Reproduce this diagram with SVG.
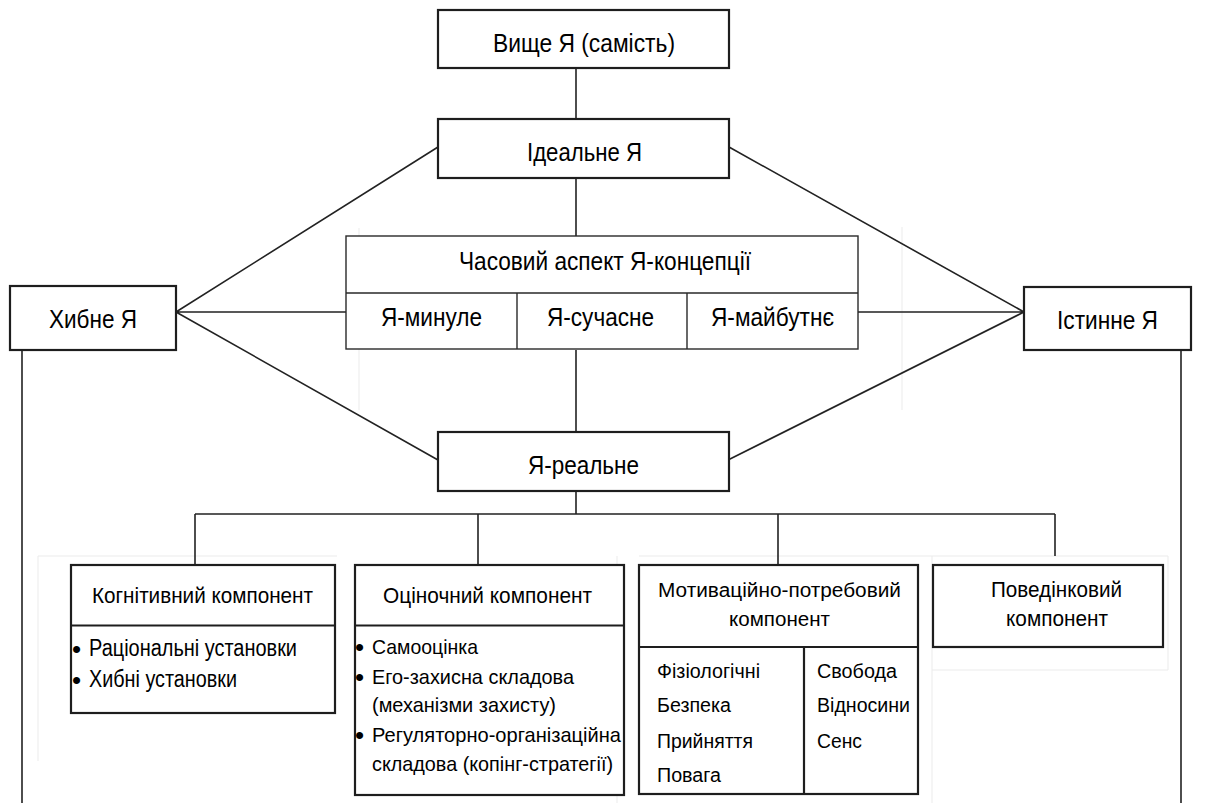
<svg xmlns="http://www.w3.org/2000/svg" width="1210" height="803" viewBox="0 0 1210 803">
<style>
.box{fill:#fff;stroke:#1e1e1e;stroke-width:2.2}
.tbl{fill:#fff;stroke:#2a2a2a;stroke-width:1.4}
.ln{stroke:#222;stroke-width:1.6;fill:none}
.faint{stroke:#ebebeb;stroke-width:1;fill:none}
text{font-family:"Liberation Sans",Arial,sans-serif;fill:#000}
.t25{font-size:26px}
.t22{font-size:23px}
.t21{font-size:22px}
.t20{font-size:21px}
.t19{font-size:20px}
.bul{font-size:26px}
</style>
<rect width="1210" height="803" fill="#fff"/>
<g id="faint">
<path class="faint" d="M359 228V410M902 227V410M38 761V556H337M617 556V803M639 556H1168V670H932M932 556V803"/>
</g>
<g id="connectors">
<path class="ln" d="M576 68V119M576 178V236M576 350V432"/>
<path class="ln" d="M176 312L438 147M176 312H346M176 312L438 460"/>
<path class="ln" d="M729 147L1024 312M858 312H1024M728 460L1024 312"/>
<path class="ln" d="M576 491V514M195 514H1055M195 514V565M478 514V565M778 514V565M1055 514V556"/>
<path class="ln" d="M22 350V803M1181 350V803"/>
</g>
<g id="vyshche">
<rect class="box" x="438" y="10" width="291" height="58"/>
<text class="t25" x="493" y="52" textLength="182" lengthAdjust="spacingAndGlyphs">Вище Я (самість)</text>
</g>
<g id="idealne">
<rect class="box" x="438" y="119" width="291" height="59"/>
<text class="t25" x="527" y="161" textLength="115" lengthAdjust="spacingAndGlyphs">Ідеальне Я</text>
</g>
<g id="chasovyi">
<rect class="tbl" x="346" y="236" width="512" height="113"/>
<path class="tbl" d="M346 293H858M517 293V349M687 293V349"/>
<text class="t25" x="459" y="270" textLength="292" lengthAdjust="spacingAndGlyphs">Часовий аспект Я-концепції</text>
<text class="t25" x="381" y="326" textLength="101" lengthAdjust="spacingAndGlyphs">Я-минуле</text>
<text class="t25" x="547" y="326" textLength="107" lengthAdjust="spacingAndGlyphs">Я-сучасне</text>
<text class="t25" x="711" y="326" textLength="123" lengthAdjust="spacingAndGlyphs">Я-майбутнє</text>
</g>
<g id="khybne">
<rect class="box" x="10" y="286" width="166" height="64"/>
<text class="t25" x="49" y="328" textLength="88" lengthAdjust="spacingAndGlyphs">Хибне Я</text>
</g>
<g id="istynne">
<rect class="box" x="1024" y="287" width="167" height="63"/>
<text class="t25" x="1057" y="329" textLength="101" lengthAdjust="spacingAndGlyphs">Істинне Я</text>
</g>
<g id="realne">
<rect class="box" x="438" y="432" width="291" height="59"/>
<text class="t25" x="528" y="474" textLength="111" lengthAdjust="spacingAndGlyphs">Я-реальне</text>
</g>
<g id="kognityvnyi">
<rect class="box" x="71" y="565" width="264" height="148"/>
<path class="box" d="M71 625.5H335"/>
<text class="t21" x="92" y="603" textLength="221" lengthAdjust="spacingAndGlyphs">Когнітивний компонент</text>
<text class="bul" x="72" y="658">•</text>
<text class="t22" x="89" y="656" textLength="208" lengthAdjust="spacingAndGlyphs">Раціональні установки</text>
<text class="bul" x="72" y="689">•</text>
<text class="t22" x="89" y="687" textLength="148" lengthAdjust="spacingAndGlyphs">Хибні установки</text>
</g>
<g id="otsinochnyi">
<rect class="box" x="355" y="565" width="269" height="230"/>
<path class="box" d="M355 625.5H624"/>
<text class="t21" x="383" y="603" textLength="209" lengthAdjust="spacingAndGlyphs">Оціночний компонент</text>
<text class="bul" x="355" y="656">•</text>
<text class="t20" x="372" y="654" textLength="106" lengthAdjust="spacingAndGlyphs">Самооцінка</text>
<text class="bul" x="355" y="686">•</text>
<text class="t20" x="372" y="684" textLength="202" lengthAdjust="spacingAndGlyphs">Его-захисна складова</text>
<text class="t20" x="372" y="712" textLength="184" lengthAdjust="spacingAndGlyphs">(механізми захисту)</text>
<text class="bul" x="355" y="744">•</text>
<text class="t20" x="372" y="742" textLength="249" lengthAdjust="spacingAndGlyphs">Регуляторно-організаційна</text>
<text class="t20" x="372" y="771" textLength="241" lengthAdjust="spacingAndGlyphs">складова (копінг-стратегії)</text>
</g>
<g id="motyvatsiinyi">
<rect class="box" x="639" y="565" width="279" height="229"/>
<path class="box" d="M639 647H918M804 647V794"/>
<text class="t19" x="658" y="597" textLength="243" lengthAdjust="spacingAndGlyphs">Мотиваційно-потребовий</text>
<text class="t19" x="729" y="626" textLength="101" lengthAdjust="spacingAndGlyphs">компонент</text>
<text class="t19" x="657" y="678" textLength="103" lengthAdjust="spacingAndGlyphs">Фізіологічні</text>
<text class="t19" x="657" y="712" textLength="74" lengthAdjust="spacingAndGlyphs">Безпека</text>
<text class="t19" x="657" y="748" textLength="96" lengthAdjust="spacingAndGlyphs">Прийняття</text>
<text class="t19" x="657" y="782" textLength="64" lengthAdjust="spacingAndGlyphs">Повага</text>
<text class="t19" x="817" y="678" textLength="80" lengthAdjust="spacingAndGlyphs">Свобода</text>
<text class="t19" x="817" y="712" textLength="93" lengthAdjust="spacingAndGlyphs">Відносини</text>
<text class="t19" x="817" y="748" textLength="45" lengthAdjust="spacingAndGlyphs">Сенс</text>
</g>
<g id="povedinkovyi">
<rect class="box" x="933" y="565" width="230" height="82"/>
<text class="t21" x="991" y="597" textLength="131" lengthAdjust="spacingAndGlyphs">Поведінковий</text>
<text class="t21" x="1006" y="626" textLength="102" lengthAdjust="spacingAndGlyphs">компонент</text>
</g>
</svg>
